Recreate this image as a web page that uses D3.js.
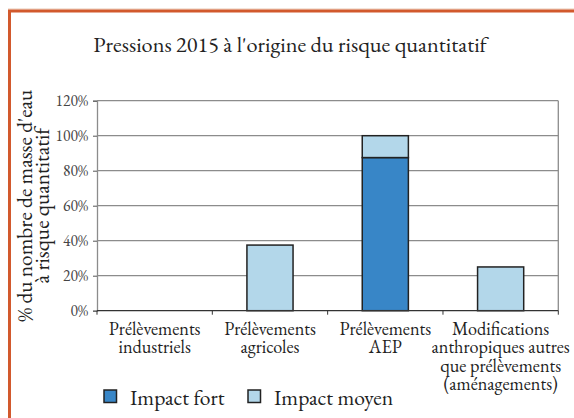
<!DOCTYPE html>
<html>
<head>
<meta charset="utf-8">
<script src="https://cdn.jsdelivr.net/npm/d3@7"></script>
<style>
  body { margin: 0; background: #fff; }
  svg { display: block; }
  svg text { font-family: "EB Garamond", "Liberation Serif", serif; }
</style>
</head>
<body>
<svg id="chart" width="574" height="418"></svg>
<script>
// Data
const categories = [
  'Prélèvements industriels',
  'Prélèvements agricoles',
  'Prélèvements AEP',
  'Modifications anthropiques autres que prélèvements (aménagements)'
];
const categoryLines = [
  ['Prélèvements', 'industriels'],
  ['Prélèvements', 'agricoles'],
  ['Prélèvements', 'AEP'],
  ['Modifications', 'anthropiques autres', 'que prélèvements', '(aménagements)']
];
const impactFort = [0, 0, 87.5, 0];
const impactMoyen = [0, 37.5, 12.5, 25];
const yTicks = [0, 20, 40, 60, 80, 100, 120];
const seriesNames = ['Impact fort', 'Impact moyen'];
const seriesColors = ['#3886c7', '#b3d7ea'];

const FONT = '"EB Garamond", "Liberation Serif", serif';
const svg = d3.select('#chart');

// Frame (orange border, only top and left visible)
svg.append('line')
  .attr('x1', 8).attr('x2', 574).attr('y1', 9).attr('y2', 9)
  .attr('stroke', '#e8c9b4').attr('stroke-width', 1);
svg.append('rect')
  .attr('x', 9.5).attr('y', 11)
  .attr('width', 600).attr('height', 500)
  .attr('fill', 'none')
  .attr('stroke', '#d2592d')
  .attr('stroke-width', 3);

// Title
svg.append('text')
  .attr('x', 290).attr('y', 52)
  .attr('text-anchor', 'middle')
  .style('font-family', FONT)
  .attr('font-size', 22.3)
  .attr('fill', '#222')
  .text("Pressions 2015 à l'origine du risque quantitatif");

const plot = { left: 97, right: 558.3, top: 100.7, bottom: 310.7 };

const x = d3.scaleBand()
  .domain(categories)
  .range([plot.left, plot.right])
  .paddingInner(0.6)
  .paddingOuter(0.3);

const y = d3.scaleLinear()
  .domain([0, 120])
  .range([plot.bottom, plot.top]);

// Gridlines
svg.append('g')
  .selectAll('line')
  .data(yTicks.slice(1))
  .join('line')
  .attr('x1', plot.left).attr('x2', plot.right)
  .attr('y1', d => y(d)).attr('y2', d => y(d))
  .attr('stroke', '#8c8c8c')
  .attr('stroke-width', 1.3);

// Right edge of the plot area
svg.append('line')
  .attr('x1', plot.right).attr('x2', plot.right)
  .attr('y1', plot.top).attr('y2', plot.bottom)
  .attr('stroke', '#8c8c8c').attr('stroke-width', 1.3);

// Bars (stacked: fort at the bottom, moyen on top)
const stacked = categories.map((c, i) => ({ cat: c, fort: impactFort[i], moyen: impactMoyen[i] }));
const bars = svg.append('g');
stacked.forEach(d => {
  if (d.fort > 0) {
    bars.append('rect')
      .attr('x', x(d.cat)).attr('width', x.bandwidth())
      .attr('y', y(d.fort)).attr('height', y(0) - y(d.fort))
      .attr('fill', seriesColors[0])
      .attr('stroke', '#222').attr('stroke-width', 1.5);
  }
  if (d.moyen > 0) {
    bars.append('rect')
      .attr('x', x(d.cat)).attr('width', x.bandwidth())
      .attr('y', y(d.fort + d.moyen)).attr('height', y(d.fort) - y(d.fort + d.moyen))
      .attr('fill', seriesColors[1])
      .attr('stroke', '#222').attr('stroke-width', 1.5);
  }
});

// Y axis
const yAxis = svg.append('g')
  .attr('transform', `translate(${plot.left},0)`)
  .call(d3.axisLeft(y).tickValues(yTicks).tickFormat(d => d + '%').tickSize(4).tickPadding(5));
yAxis.select('.domain').attr('stroke', '#8c8c8c').attr('stroke-width', 1.3);
yAxis.selectAll('.tick line').attr('stroke', '#555');
yAxis.selectAll('.tick text')
  .style('font-family', FONT)
  .attr('font-size', 15.5)
  .attr('fill', '#444');

// X axis line and category separators
const step = x.step();
svg.append('line')
  .attr('x1', plot.left).attr('x2', plot.right)
  .attr('y1', plot.bottom).attr('y2', plot.bottom)
  .attr('stroke', '#333').attr('stroke-width', 1.3);
svg.append('g')
  .selectAll('line')
  .data(d3.range(categories.length + 1))
  .join('line')
  .attr('x1', i => plot.left + i * step).attr('x2', i => plot.left + i * step)
  .attr('y1', plot.bottom).attr('y2', plot.bottom + 4)
  .attr('stroke', '#333').attr('stroke-width', 1);

// Category labels
svg.append('g')
  .selectAll('text')
  .data(categories)
  .join('text')
  .attr('x', d => x(d) + x.bandwidth() / 2)
  .attr('y', 335)
  .attr('text-anchor', 'middle')
  .style('font-family', FONT)
  .attr('font-size', 18.2)
  .attr('fill', '#222')
  .each(function(d, i) {
    d3.select(this).selectAll('tspan')
      .data(categoryLines[i])
      .join('tspan')
      .attr('x', x(d) + x.bandwidth() / 2)
      .attr('dy', (t, j) => j === 0 ? 0 : 18.3)
      .text(t => t);
  });

// Y axis title
const yTitle = svg.append('text')
  .attr('transform', `translate(0,${(plot.top + plot.bottom) / 2}) rotate(-90)`)
  .attr('text-anchor', 'middle')
  .style('font-family', FONT)
  .attr('font-size', 21.4)
  .attr('fill', '#222');
yTitle.append('tspan').attr('x', 0).attr('y', 32).text("% du nombre de masse d'eau");
yTitle.append('tspan').attr('x', 0).attr('y', 48.5).text('à risque quantitatif');

// Legend
const legendItems = [
  { name: seriesNames[0], color: seriesColors[0], x: 104 },
  { name: seriesNames[1], color: seriesColors[1], x: 248 }
];
const legend = svg.append('g');
legendItems.forEach(item => {
  legend.append('rect')
    .attr('x', item.x).attr('y', 390)
    .attr('width', 12.5).attr('height', 12.5)
    .attr('fill', item.color)
    .attr('stroke', '#222').attr('stroke-width', 1.5);
  legend.append('text')
    .attr('x', item.x + 26).attr('y', 405)
    .style('font-family', FONT)
    .attr('font-size', 21.6)
    .attr('fill', '#222')
    .text(item.name);
});
</script>
</body>
</html>
